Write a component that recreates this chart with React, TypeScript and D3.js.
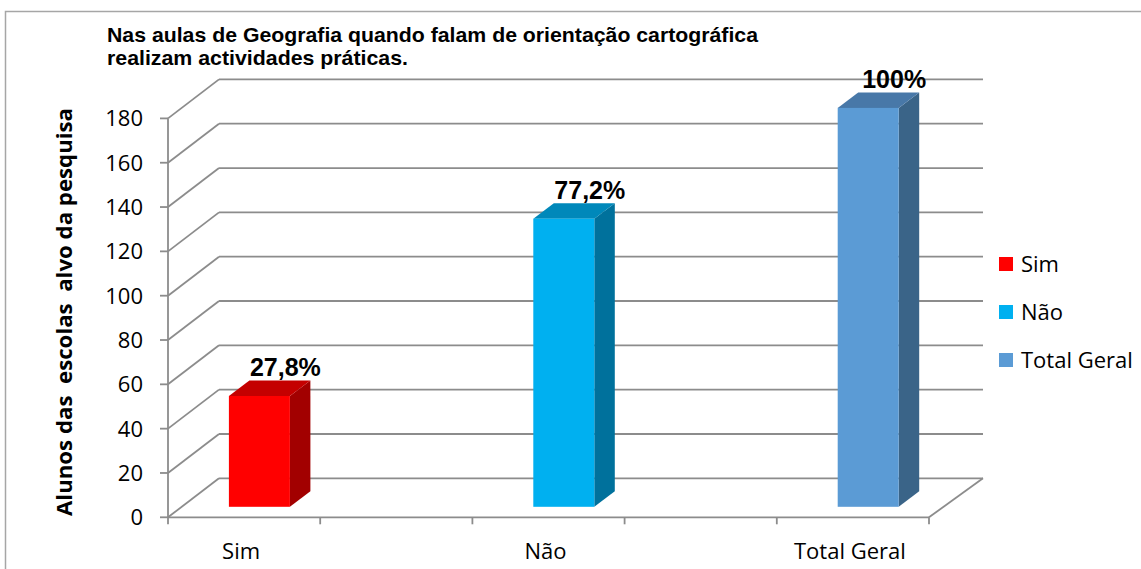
import React from 'react'
import * as d3 from 'd3'

// chart data
const categories = ['Sim', 'Não', 'Total Geral']
const values = [50, 130, 180]
const percentLabels = ['27,8%', '77,2%', '100%']
const titleLines = [
  'Nas aulas de Geografia quando falam de orientação cartográfica',
  'realizam actividades práticas.',
]
const yAxisTitle = 'Alunos das  escolas  alvo da pesquisa'

const frontColors = ['#FF0000', '#00B0F0', '#5B9BD5']
const sideColors = ['#A20000', '#00719C', '#3A6488']
const topColors = ['#C40000', '#0088BA', '#4878A8']

const W = 1141
const H = 569

const App = () => {
  // front plane of the plot
  const left = 168
  const right = 929
  const yScale = d3.scaleLinear().domain([0, 180]).range([517.3, 118.4])
  const xScale = d3.scalePoint<string>().domain(categories).range([left, right]).padding(0.25)
  const step = xScale.step()

  // depth of the 3d box (floor / walls)
  const depthX = 51
  const depthY = -39
  const backRight = 983

  // bar placement inside the depth
  const frontDx = 13.8
  const frontDy = -10.5
  const barDx = 20.5
  const barDy = -15.5
  const barHalf = 30.5

  const yTicks = yScale.ticks(9)
  const xTicks = d3.range(0, 6).map((i) => left + (i * step) / 2)
  const grid = '#8c8c8c'

  const fontSans = "'Open Sans', sans-serif"
  const fontArial = "'Liberation Sans', Arial, sans-serif"

  return (
    <svg
      width={W}
      height={H}
      style={{ position: 'absolute', left: 0, top: 0, background: '#fff' }}
    >
      <rect x={5.5} y={11.5} width={1150} height={600} fill="#fff" stroke="#a6a6a6" strokeWidth={1.5} />

      {/* title */}
      <text fontFamily={fontArial} fontWeight="bold" fontSize={21} fill="#000">
        <tspan x={107} y={42} textLength={651} lengthAdjust="spacingAndGlyphs">{titleLines[0]}</tspan>
        <tspan x={107} y={65} textLength={301} lengthAdjust="spacingAndGlyphs">{titleLines[1]}</tspan>
      </text>

      {/* walls: side diagonals and back grid lines */}
      {yTicks.map((t) => (
        <g key={'g' + t} stroke={grid} strokeWidth={1.8} fill="none">
          <line x1={left} y1={yScale(t)} x2={left + depthX} y2={yScale(t) + depthY} />
          <line x1={left + depthX} y1={yScale(t) + depthY} x2={backRight} y2={yScale(t) + depthY} />
        </g>
      ))}
      {/* floor */}
      <g stroke={grid} strokeWidth={1.8} fill="none">
        <line x1={left} y1={yScale(0)} x2={right} y2={yScale(0)} />
        <line x1={right} y1={yScale(0)} x2={backRight} y2={yScale(0) + depthY} />
        <line x1={left} y1={yScale(180)} x2={left} y2={yScale(0)} />
      </g>

      {/* y axis ticks and labels */}
      {yTicks.map((t) => (
        <g key={'y' + t}>
          <line x1={160} x2={left} y1={yScale(t)} y2={yScale(t)} stroke={grid} strokeWidth={1.8} />
          <text
            x={143}
            y={yScale(t)}
            dy="0.36em"
            textAnchor="end"
            fontFamily={fontSans}
            fontSize={22}
            fill="#000"
          >
            {t}
          </text>
        </g>
      ))}

      {/* x axis ticks */}
      {xTicks.map((x, i) => (
        <line key={'xt' + i} x1={x} x2={x} y1={yScale(0)} y2={yScale(0) + 7} stroke={grid} strokeWidth={1.8} />
      ))}
      {categories.map((c) => (
        <text
          key={'xl' + c}
          x={xScale(c)! - 3}
          y={559}
          textAnchor="middle"
          fontFamily={fontSans}
          fontSize={22}
          fill="#000"
        >
          {c}
        </text>
      ))}

      {/* y axis title */}
      <text
        transform={`translate(72,${312}) rotate(-90)`}
        textAnchor="middle"
        fontFamily={fontSans}
        fontWeight="bold"
        fontSize={21}
        textLength={408}
        lengthAdjust="spacingAndGlyphs"
        style={{ whiteSpace: 'pre' }}
        fill="#000"
      >
        {yAxisTitle}
      </text>

      {/* bars */}
      {categories.map((c, i) => {
        const cx = xScale(c)! + frontDx + 1.5
        const x0 = cx - barHalf
        const x1 = cx + barHalf
        const yb = yScale(0) + frontDy
        const yt = yScale(values[i]) + frontDy
        const side = [
          [x1, yb],
          [x1 + barDx, yb + barDy],
          [x1 + barDx, yt + barDy],
          [x1, yt],
        ]
        const top = [
          [x0, yt],
          [x1, yt],
          [x1 + barDx, yt + barDy],
          [x0 + barDx, yt + barDy],
        ]
        return (
          <g key={'b' + c}>
            <polygon points={side.map((p) => p.join(',')).join(' ')} fill={sideColors[i]} />
            <polygon points={top.map((p) => p.join(',')).join(' ')} fill={topColors[i]} />
            <rect x={x0} y={yt} width={x1 - x0} height={yb - yt} fill={frontColors[i]} />
            <text
              x={cx + 26}
              y={yt + barDy - 4}
              textAnchor="middle"
              fontFamily={fontArial}
              fontWeight="bold"
              fontSize={25}
              fill="#000"
            >
              {percentLabels[i]}
            </text>
          </g>
        )
      })}

      {/* legend */}
      {categories.map((c, i) => (
        <g key={'l' + c} transform={`translate(999,${257 + i * 48})`}>
          <rect x={0} y={0} width={14} height={14} fill={frontColors[i]} />
          <text x={22} y={14.5} fontFamily={fontSans} fontSize={22} fill="#000">
            {c}
          </text>
        </g>
      ))}
    </svg>
  )
}

export default App
